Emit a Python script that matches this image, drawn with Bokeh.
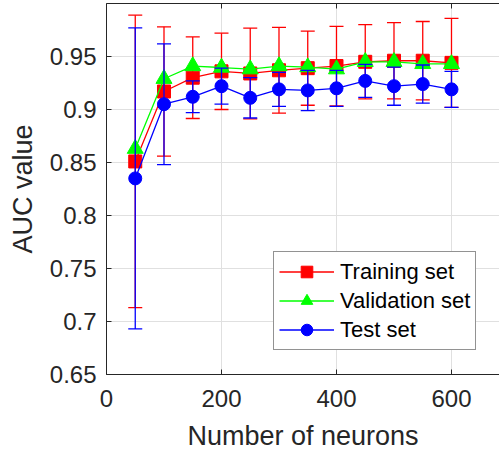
from bokeh.plotting import figure
from bokeh.models import (ColumnDataSource, FixedTicker, LinearAxis, Legend, LegendItem,
                          CustomJSTickFormatter, Range1d)
from bokeh.embed import file_html
from bokeh.resources import INLINE

# ---- data ----
neurons = [50, 100, 150, 200, 250, 300, 350, 400, 450, 500, 550, 600]
train_auc = [0.851, 0.917, 0.930, 0.936, 0.934, 0.937, 0.939, 0.941, 0.945, 0.946, 0.946, 0.944]
train_err = [0.138, 0.061, 0.0385, 0.036, 0.0428, 0.0405, 0.035, 0.0375, 0.035, 0.036, 0.037, 0.042]
val_auc = [0.863, 0.929, 0.941, 0.9396, 0.938, 0.941, 0.940, 0.938, 0.945, 0.945, 0.943, 0.943]
test_auc = [0.835, 0.905, 0.912, 0.922, 0.911, 0.919, 0.918, 0.920, 0.927, 0.922, 0.924, 0.919]
test_err = [0.142, 0.057, 0.015, 0.017, 0.019, 0.016, 0.019, 0.017, 0.0155, 0.018, 0.018, 0.017]
series_names = ["Training set", "Validation set", "Test set"]
x_ticks = [0, 200, 400, 600]
y_ticks = [0.65, 0.7, 0.75, 0.8, 0.85, 0.9, 0.95]

FONT = "Liberation Sans"
AX = "#262626"

p = figure(width=499, height=454, output_backend="svg", toolbar_location=None,
           x_range=Range1d(0, 683.5), y_range=Range1d(0.65, 1.0),
           min_border_left=106, min_border_right=0, min_border_top=3, min_border_bottom=80,
           x_axis_label="Number of neurons", y_axis_label="AUC value")
p.outline_line_color = None
p.background_fill_color = "white"

fmt = CustomJSTickFormatter(code="return tick.toString();")
blank = CustomJSTickFormatter(code="return '';")

for ax in (p.xaxis[0], p.yaxis[0]):
    ax.major_tick_in = 5
    ax.major_tick_out = 0
    ax.minor_tick_line_color = None
    ax.axis_line_color = AX
    ax.major_tick_line_color = AX
    ax.major_label_text_font = FONT
    ax.major_label_text_font_size = "24px"
    ax.major_label_text_color = AX
    ax.axis_label_text_font = FONT
    ax.axis_label_text_font_size = "27px"
    ax.axis_label_text_font_style = "normal"
    ax.axis_label_text_color = AX
    ax.formatter = fmt

p.xaxis.ticker = FixedTicker(ticks=x_ticks)
p.yaxis.ticker = FixedTicker(ticks=y_ticks)
p.xaxis.major_label_standoff = 15
p.xaxis.axis_label_standoff = 11
p.yaxis.major_label_standoff = 10
p.yaxis.axis_label_standoff = 9

top = LinearAxis(ticker=FixedTicker(ticks=x_ticks), formatter=blank,
                 major_tick_in=5, major_tick_out=0, minor_tick_line_color=None,
                 axis_line_color=AX, major_tick_line_color=AX,
                 major_label_text_font_size="0px", major_label_standoff=0)
p.add_layout(top, "above")

p.xgrid.ticker = FixedTicker(ticks=x_ticks)
p.ygrid.ticker = FixedTicker(ticks=y_ticks)
p.grid.grid_line_color = "#e0e0e0"
p.grid.grid_line_width = 1


def draw(y, err, color, marker, size):
    if err is not None:
        src = ColumnDataSource(dict(x=neurons,
                                    lo=[a - e for a, e in zip(y, err)],
                                    hi=[a + e for a, e in zip(y, err)]))
        p.segment(x0="x", y0="lo", x1="x", y1="hi", source=src, line_color=color, line_width=1.3)
        p.scatter("x", "lo", source=src, marker="dash", size=14, line_color=color, line_width=1.3)
        p.scatter("x", "hi", source=src, marker="dash", size=14, line_color=color, line_width=1.3)
    ln = p.line(neurons, y, line_color=color, line_width=1.3)
    mk = p.scatter(neurons, y, marker=marker, size=size, fill_color=color, line_color=color)
    return [ln, mk]


r_train = draw(train_auc, train_err, "#ff0000", "square", 13)
r_val = draw(val_auc, None, "#00ff00", "triangle", 16)
r_test = draw(test_auc, test_err, "#0000ff", "circle", 13)

legend = Legend(items=[LegendItem(label=series_names[0], renderers=r_train),
                       LegendItem(label=series_names[1], renderers=r_val),
                       LegendItem(label=series_names[2], renderers=r_test)],
                location=(167, 24), padding=5, spacing=0, margin=0,
                glyph_height=29, glyph_width=55, label_height=29, label_standoff=6,
                label_text_font=FONT, label_text_font_size="22px", label_text_color="black",
                border_line_color=AX, border_line_width=1, background_fill_alpha=1)
p.add_layout(legend, "center")

open("out.html", "w").write(file_html(p, INLINE))
